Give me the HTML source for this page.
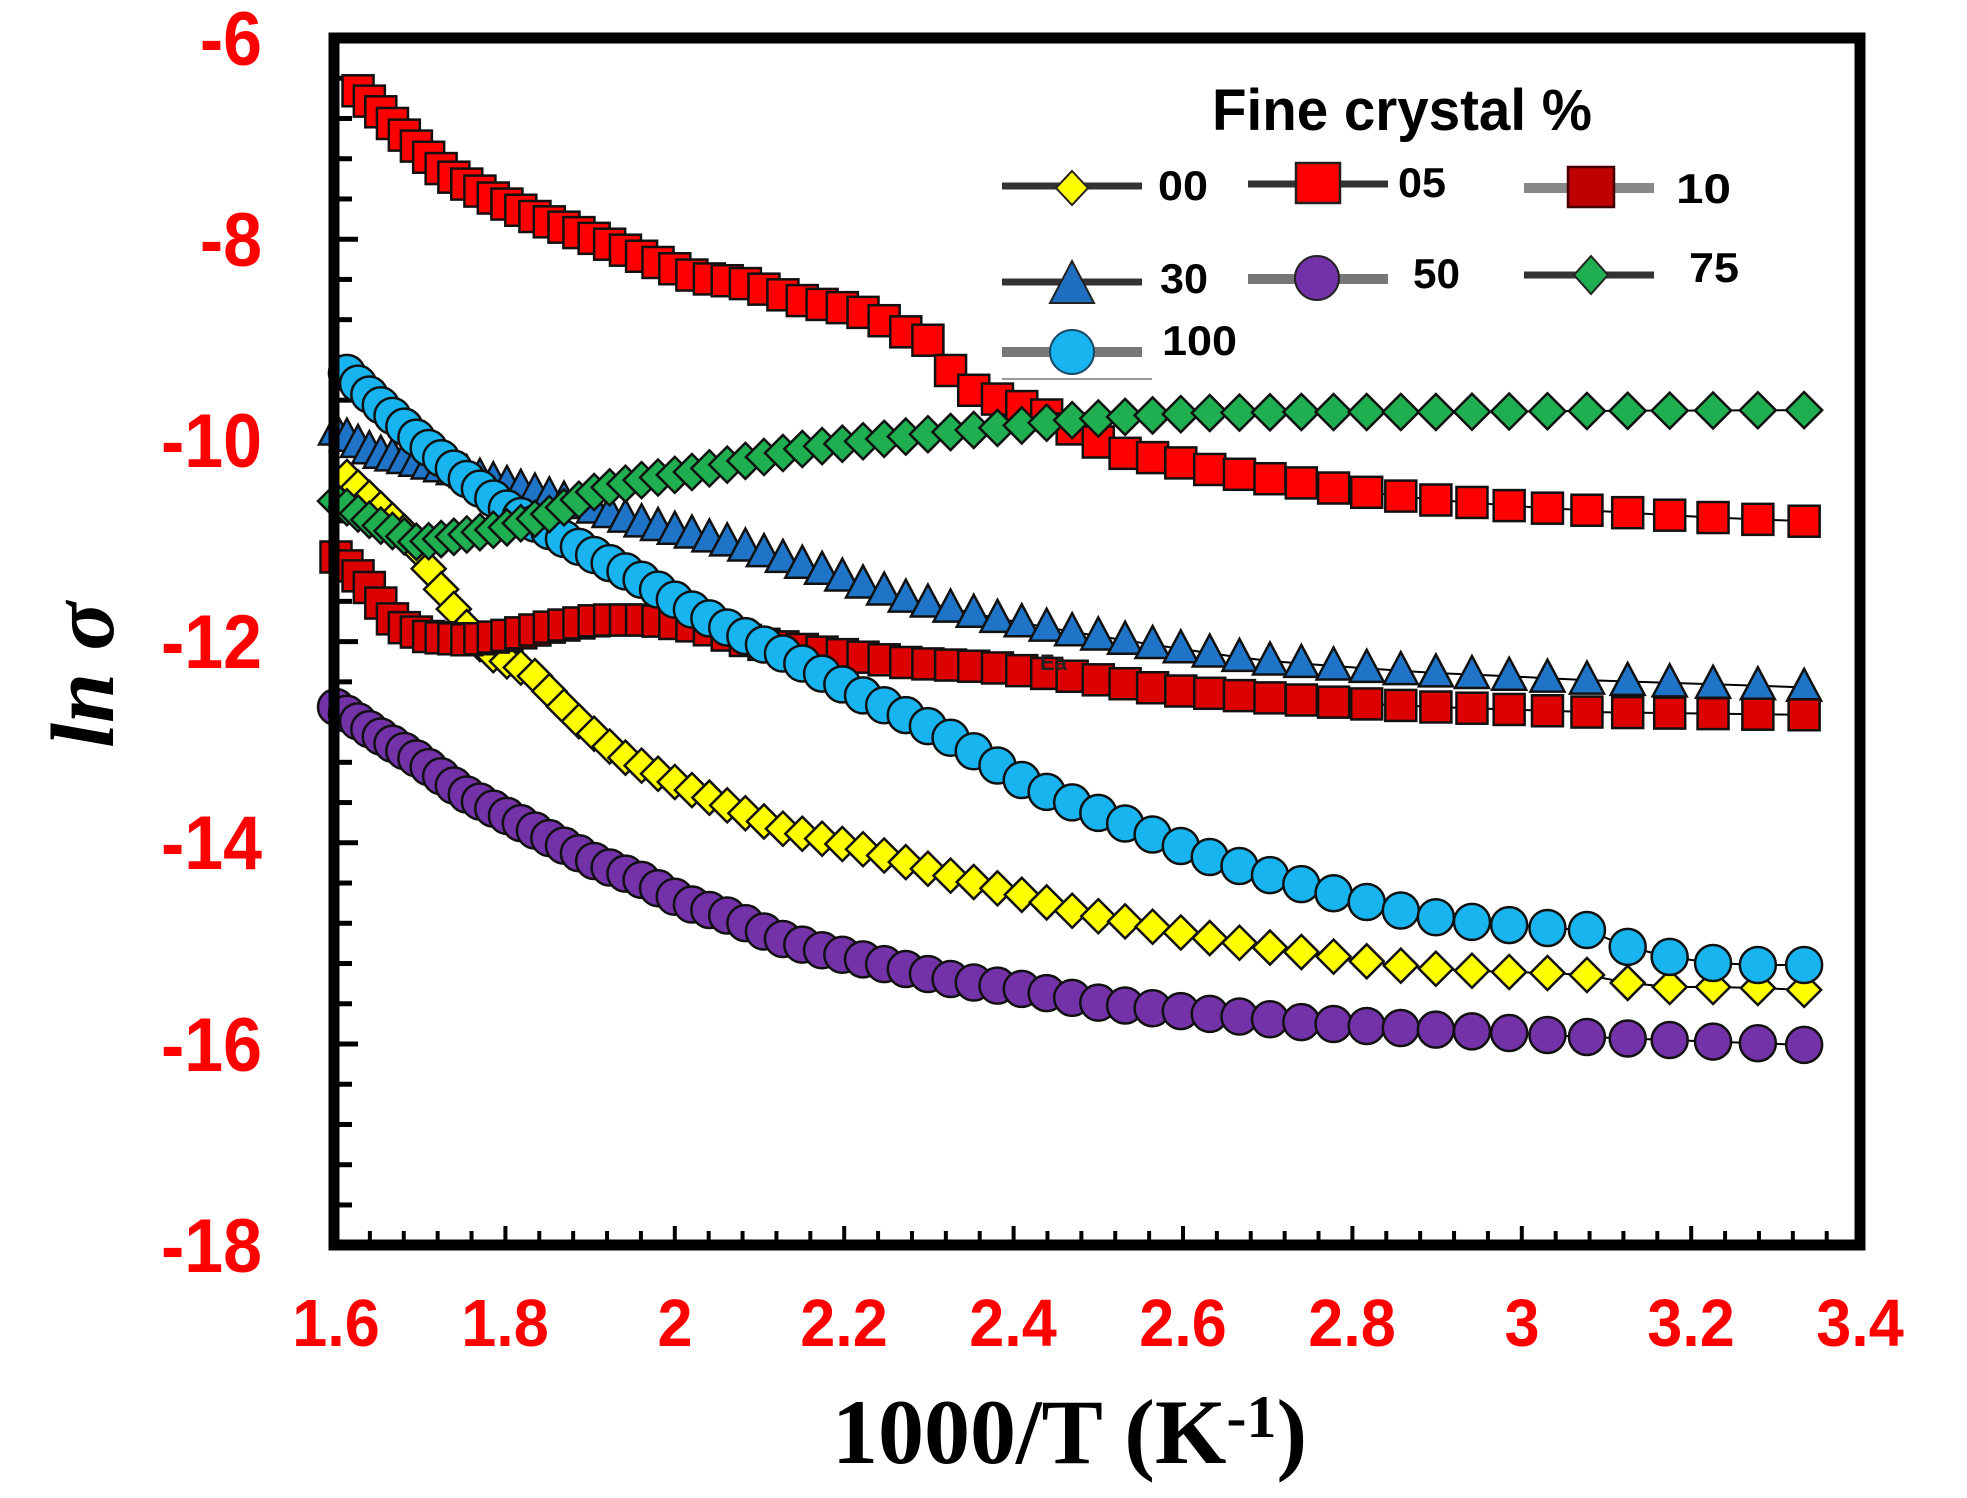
<!DOCTYPE html>
<html>
<head>
<meta charset="utf-8">
<style>
html,body{margin:0;padding:0;background:#fff;}
svg{display:block;}
</style>
</head>
<body>
<svg id="chart" xmlns="http://www.w3.org/2000/svg" width="1967" height="1498" viewBox="0 0 1967 1498">
<rect x="0" y="0" width="1967" height="1498" fill="#fff"/>
<g id="ticks"></g>
<g id="series"></g>
<rect x="334" y="38" width="1526" height="1207" fill="none" stroke="#000" stroke-width="11"/>

<!-- Y tick labels -->
<g font-family="Liberation Sans, Arial, sans-serif" font-weight="bold" font-size="76" fill="#ff0000" text-anchor="end">
  <text transform="translate(262,65) scale(0.92,1)">-6</text>
  <text transform="translate(262,266) scale(0.92,1)">-8</text>
  <text transform="translate(262,467) scale(0.92,1)">-10</text>
  <text transform="translate(262,668) scale(0.92,1)">-12</text>
  <text transform="translate(262,869) scale(0.92,1)">-14</text>
  <text transform="translate(262,1071) scale(0.92,1)">-16</text>
  <text transform="translate(262,1272) scale(0.92,1)">-18</text>
</g>
<!-- X tick labels -->
<g font-family="Liberation Sans, Arial, sans-serif" font-weight="bold" font-size="67" fill="#ff0000" text-anchor="middle">
  <text transform="translate(336,1346) scale(0.94,1)">1.6</text>
  <text transform="translate(505,1346) scale(0.94,1)">1.8</text>
  <text transform="translate(675,1346) scale(0.94,1)">2</text>
  <text transform="translate(844,1346) scale(0.94,1)">2.2</text>
  <text transform="translate(1013,1346) scale(0.94,1)">2.4</text>
  <text transform="translate(1183,1346) scale(0.94,1)">2.6</text>
  <text transform="translate(1352,1346) scale(0.94,1)">2.8</text>
  <text transform="translate(1522,1346) scale(0.94,1)">3</text>
  <text transform="translate(1691,1346) scale(0.94,1)">3.2</text>
  <text transform="translate(1860,1346) scale(0.94,1)">3.4</text>
</g>

<!-- Axis titles -->
<text x="832" y="1463" font-family="Liberation Serif, Times New Roman, serif" font-weight="bold" font-size="92" fill="#000">1000/T (K<tspan font-size="60" dy="-26">-1</tspan><tspan dy="26">)</tspan></text>
<text transform="translate(113,675) rotate(-90)" text-anchor="middle" font-family="Liberation Serif, Times New Roman, serif" font-weight="bold" font-style="italic" font-size="90" fill="#000">ln σ</text>

<!-- small annotation -->
<text x="1040" y="670" font-family="Liberation Sans, Arial, sans-serif" font-weight="bold" font-size="22" fill="#222">Ea</text>

<!-- Legend -->
<g id="legend">
  <text x="1212" y="130" font-family="Liberation Sans, Arial, sans-serif" font-weight="bold" font-size="58" textLength="380" lengthAdjust="spacingAndGlyphs" fill="#000">Fine crystal %</text>

  <line x1="1002" y1="186" x2="1142" y2="186" stroke="#333" stroke-width="7"/>
  <polygon points="1072,171 1088,188 1072,205 1056,188" fill="#ffff00" stroke="#222" stroke-width="2"/>
  <text x="1158" y="200" font-family="Liberation Sans, Arial, sans-serif" font-weight="bold" font-size="42" textLength="50" lengthAdjust="spacingAndGlyphs">00</text>

  <line x1="1248" y1="184" x2="1388" y2="184" stroke="#333" stroke-width="7"/>
  <rect x="1296" y="163" width="44" height="40" fill="#ff0000" stroke="#222" stroke-width="2.5"/>
  <text x="1398" y="197" font-family="Liberation Sans, Arial, sans-serif" font-weight="bold" font-size="42" textLength="48" lengthAdjust="spacingAndGlyphs">05</text>

  <line x1="1524" y1="188" x2="1654" y2="188" stroke="#888" stroke-width="10"/>
  <rect x="1568" y="167" width="46" height="40" fill="#c00000" stroke="#400" stroke-width="2.5"/>
  <text x="1676" y="203" font-family="Liberation Sans, Arial, sans-serif" font-weight="bold" font-size="42" textLength="55" lengthAdjust="spacingAndGlyphs">10</text>

  <line x1="1002" y1="282" x2="1142" y2="282" stroke="#333" stroke-width="7"/>
  <polygon points="1072,261 1094,303 1050,303" fill="#1f6fc0" stroke="#222" stroke-width="2"/>
  <text x="1160" y="293" font-family="Liberation Sans, Arial, sans-serif" font-weight="bold" font-size="42" textLength="48" lengthAdjust="spacingAndGlyphs">30</text>

  <line x1="1248" y1="279" x2="1388" y2="279" stroke="#777" stroke-width="10"/>
  <circle cx="1317" cy="278" r="22" fill="#7432a8" stroke="#222" stroke-width="2"/>
  <text x="1413" y="288" font-family="Liberation Sans, Arial, sans-serif" font-weight="bold" font-size="42" textLength="47" lengthAdjust="spacingAndGlyphs">50</text>

  <line x1="1524" y1="275" x2="1654" y2="275" stroke="#333" stroke-width="7"/>
  <polygon points="1591,256 1608,275 1591,294 1574,275" fill="#1fae50" stroke="#222" stroke-width="2"/>
  <text x="1689" y="282" font-family="Liberation Sans, Arial, sans-serif" font-weight="bold" font-size="42" textLength="50" lengthAdjust="spacingAndGlyphs">75</text>

  <line x1="1002" y1="352" x2="1142" y2="352" stroke="#777" stroke-width="10"/>
  <circle cx="1072" cy="352" r="22" fill="#18b4ef" stroke="#1a4a66" stroke-width="2"/>
  <text x="1162" y="355" font-family="Liberation Sans, Arial, sans-serif" font-weight="bold" font-size="42" textLength="75" lengthAdjust="spacingAndGlyphs">100</text>

  <line x1="1002" y1="379" x2="1152" y2="379" stroke="#999" stroke-width="2"/>
</g>

<script>
(function(){
  var NS = "http://www.w3.org/2000/svg";
  function el(tag, attrs, parent){
    var e = document.createElementNS(NS, tag);
    for (var k in attrs) e.setAttribute(k, attrs[k]);
    parent.appendChild(e);
    return e;
  }
  var X = function(v){ return 336 + (v - 1.6) * 847; };

  // ticks
  var tg = document.getElementById("ticks");
  for (var i = 1; i < 30; i++) {
    var y = 38 + 0.4 * i * 100.6;
    var major = (i % 5 === 0);
    el("line", {x1: 339, y1: y, x2: major ? 358 : 352, y2: y, stroke: "#000", "stroke-width": 5}, tg);
  }
  for (var j = 1; j <= 44; j++) {
    var x = X(1.6 + 0.04 * j);
    if (x > 1850) break;
    var mj = (j % 5 === 0);
    el("line", {x1: x, y1: 1241, x2: x, y2: mj ? 1226 : 1231, stroke: "#000", "stroke-width": 4}, tg);
  }

  function interp(pts, x){
    if (x <= pts[0][0]) return pts[0][1];
    for (var k = 1; k < pts.length; k++) {
      if (x <= pts[k][0]) {
        var a = pts[k-1], b = pts[k];
        var t = (x - a[0]) / (b[0] - a[0]);
        return a[1] + t * (b[1] - a[1]);
      }
    }
    return pts[pts.length-1][1];
  }

  var series = [
    { name:"00", T0:620, shape:"diamond", fill:"#ffff00", w:34, h:34,
      pts:[[347,477],[375,503],[410,537],[437,583],[459,617],[486,652],[531,672],[575,718],[620,755],[687,788],[754,817],[776,827],[866,850],[955,877],[1030,897],[1076,912],[1139,924],[1203,937],[1266,947],[1329,956],[1393,965],[1450,970],[1508,972],[1547,973],[1587,975],[1628,983],[1670,987],[1712,987],[1758,988],[1807,990]] },
    { name:"50", T0:625, shape:"circle", fill:"#7432a8", w:36, h:36,
      pts:[[337,707],[375,733],[419,760],[464,793],[509,817],[553,840],[598,863],[642,880],[687,903],[732,917],[776,937],[821,950],[866,960],[910,970],[955,980],[1030,990],[1100,1003],[1200,1013],[1300,1022],[1400,1028],[1508,1033],[1587,1037],[1670,1040],[1807,1045]] },
    { name:"30", T0:625, shape:"triangle", fill:"#1f74c8", w:34, h:32,
      pts:[[334,430],[375,453],[464,473],[553,497],[642,523],[732,543],[821,570],[905,598],[995,618],[1079,633],[1168,647],[1257,660],[1346,667],[1436,673],[1525,677],[1583,680],[1823,688]] },
    { name:"10", T0:625, shape:"square", fill:"#dd0000", w:31, h:31,
      pts:[[337,557],[366,583],[397,625],[430,637],[470,640],[510,635],[550,627],[600,620],[650,620],[700,627],[754,643],[821,652],[910,663],[989,667],[1079,677],[1168,690],[1257,697],[1346,703],[1436,707],[1525,710],[1583,712],[1823,715]] },
    { name:"100", T0:620, shape:"circle", fill:"#18b4ef", w:36, h:36,
      pts:[[346,372],[375,400],[419,440],[464,477],[509,510],[553,533],[598,557],[642,580],[687,607],[732,630],[776,650],[821,673],[866,697],[910,717],[955,740],[1000,767],[1030,785],[1076,804],[1139,829],[1203,855],[1266,874],[1329,892],[1393,909],[1450,920],[1508,925],[1547,928],[1587,930],[1628,947],[1670,957],[1712,963],[1758,965],[1807,965]] },
    { name:"05", T0:615, shape:"square", fill:"#ff0000", w:31, h:31,
      pts:[[355,88],[379,110],[402,133],[424,153],[446,173],[491,197],[536,217],[580,233],[625,250],[670,267],[700,278],[740,282],[807,302],[857,310],[890,323],[915,337],[935,342],[950,370],[973,390],[1000,400],[1043,413],[1087,437],[1123,453],[1168,460],[1212,470],[1257,477],[1302,483],[1346,490],[1391,495],[1436,500],[1480,503],[1525,507],[1583,510],[1700,517],[1823,522]] },
    { name:"75", T0:625, shape:"diamond", fill:"#1fae50", w:36, h:36,
      pts:[[334,500],[375,523],[419,543],[464,535],[509,527],[553,513],[598,490],[642,480],[687,473],[740,462],[807,448],[873,440],[940,433],[1007,427],[1073,420],[1140,416],[1207,413],[1300,412],[1436,412],[1583,411],[1823,410]] }
  ];

  var sg = document.getElementById("series");
  series.forEach(function(s){
    var g = el("g", {}, sg);
    var pts = [];
    for (var T = s.T0; T >= 300; T -= 5) {
      var x = X(1000 / T);
      pts.push([x, interp(s.pts, x)]);
    }
    var d = pts.map(function(p, i){ return (i ? "L" : "M") + p[0].toFixed(1) + "," + p[1].toFixed(1); }).join(" ");
    el("path", {d: d, fill: "none", stroke: "#000", "stroke-width": 2}, g);
    pts.forEach(function(p){
      var x = p[0], y = p[1], w = s.w, h = s.h;
      var common = {fill: s.fill, stroke: "#111", "stroke-width": 2.5, "stroke-linejoin": "miter"};
      var a;
      if (s.shape === "square") {
        a = {x: x - w/2, y: y - h/2, width: w, height: h};
        for (var k in common) a[k] = common[k];
        el("rect", a, g);
      } else if (s.shape === "circle") {
        a = {cx: x, cy: y, r: w/2};
        for (var k2 in common) a[k2] = common[k2];
        el("circle", a, g);
      } else if (s.shape === "diamond") {
        a = {points: [x, y - h/2, x + w/2, y, x, y + h/2, x - w/2, y].join(",")};
        for (var k3 in common) a[k3] = common[k3];
        el("polygon", a, g);
      } else if (s.shape === "triangle") {
        a = {points: [x, y - h*0.58, x + w/2, y + h*0.42, x - w/2, y + h*0.42].join(",")};
        for (var k4 in common) a[k4] = common[k4];
        el("polygon", a, g);
      }
    });
  });
})();
</script>
</svg>
</body>
</html>
